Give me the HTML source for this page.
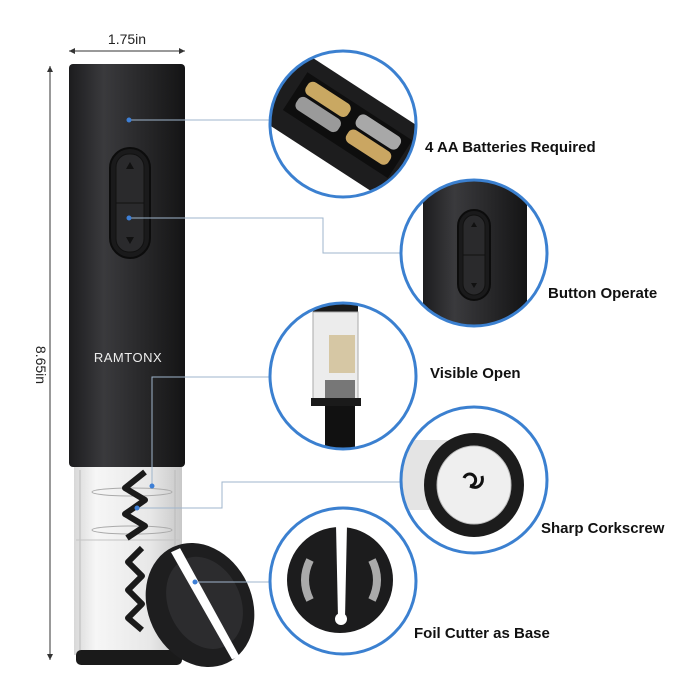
<!DOCTYPE html>
<html><head><meta charset="utf-8"><style>
html,body{margin:0;padding:0;background:#fff;}
svg{display:block;font-family:"Liberation Sans",Arial,sans-serif;}
</style></head><body>
<svg width="697" height="700" viewBox="0 0 697 700" xmlns="http://www.w3.org/2000/svg">
<defs>
<linearGradient id="body" x1="0" x2="1">
<stop offset="0" stop-color="#1c1c1e"/><stop offset="0.3" stop-color="#3a3a3d"/><stop offset="0.6" stop-color="#2a2a2c"/><stop offset="1" stop-color="#141415"/>
</linearGradient>
<linearGradient id="glass" x1="0" x2="1">
<stop offset="0" stop-color="#d8d8d8"/><stop offset="0.2" stop-color="#f6f6f6"/><stop offset="0.7" stop-color="#e8e8e8"/><stop offset="1" stop-color="#c8c8c8"/>
</linearGradient>
<clipPath id="c1"><circle cx="343" cy="124" r="73"/></clipPath>
<clipPath id="c2"><circle cx="474" cy="253" r="73"/></clipPath>
<clipPath id="c3"><circle cx="343" cy="376" r="73"/></clipPath>
<clipPath id="c4"><circle cx="474" cy="480" r="73"/></clipPath>
<clipPath id="c5"><circle cx="343" cy="581" r="73"/></clipPath>
</defs>

<text x="127" y="44" font-size="14" text-anchor="middle" fill="#222">1.75in</text>
<line x1="69" y1="51" x2="185" y2="51" stroke="#333" stroke-width="1"/>
<path d="M69 51 l6 -3 v6z M185 51 l-6 -3 v6z" fill="#333"/>
<line x1="50" y1="66" x2="50" y2="660" stroke="#333" stroke-width="1"/>
<path d="M50 66 l-3 6 h6z M50 660 l-3 -6 h6z" fill="#333"/>
<text transform="translate(36,365) rotate(90)" font-size="14" text-anchor="middle" fill="#222">8.65in</text>

<rect x="69" y="64" width="116" height="403" rx="4" fill="url(#body)"/>
<rect x="110" y="148" width="40" height="110" rx="20" fill="#1a1a1b" stroke="#0c0c0c" stroke-width="2"/>
<rect x="116" y="154" width="28" height="98" rx="13" fill="#2a2a2c" stroke="#111" stroke-width="1"/>
<line x1="116" y1="203" x2="144" y2="203" stroke="#111"/>
<path d="M130 162 l-4 7 h8z M130 244 l-4 -7 h8z" fill="#111"/>
<text x="128" y="362" font-size="13" fill="#eee" text-anchor="middle" letter-spacing="0.5">RAMTONX</text>
<rect x="74" y="467" width="108" height="188" fill="url(#glass)"/>
<line x1="80" y1="470" x2="80" y2="650" stroke="#bbb"/>
<line x1="175" y1="470" x2="175" y2="650" stroke="#bbb"/>
<line x1="76" y1="540" x2="180" y2="540" stroke="#c4c4c4"/>
<ellipse cx="132" cy="492" rx="40" ry="4" fill="none" stroke="#aaa"/>
<ellipse cx="132" cy="530" rx="40" ry="4" fill="none" stroke="#aaa"/>
<path d="M145 472 l-20 16 l20 12 l-20 14 l20 12 l-18 12 M142 548 l-14 14 l14 14 l-14 14 l14 14 l-14 14 l14 12" stroke="#1a1a1a" stroke-width="6" fill="none" stroke-linejoin="round"/>
<rect x="76" y="650" width="106" height="15" rx="5" fill="#1a1a1a"/>
<g transform="rotate(-25 200 605)">
<ellipse cx="200" cy="605" rx="52" ry="64" fill="#1e1e1f"/>
<ellipse cx="205" cy="605" rx="36" ry="48" fill="#2c2c2e"/>
<path d="M196 545 L206 545 L214 668 L206 668z" fill="#fff"/>
</g>

<g stroke="#9fb5cc" stroke-width="1" fill="none">
<path d="M129 120 H270"/>
<path d="M129 218 H323 V253 H400"/>
<path d="M152 486 V377 H270"/>
<path d="M137 508 H222 V482 H400"/>
<path d="M195 582 H270"/>
</g>
<g fill="#3d7fd6">
<circle cx="129" cy="120" r="2.5"/><circle cx="129" cy="218" r="2.5"/>
<circle cx="152" cy="486" r="2.5"/><circle cx="137" cy="508" r="2.5"/><circle cx="195" cy="582" r="2.5"/>
</g>

<g clip-path="url(#c1)">
<rect x="260" y="40" width="170" height="170" fill="#fff"/>
<g transform="rotate(33 343 124)">
<rect x="255" y="85" width="190" height="80" fill="#1d1d1e"/>
<rect x="285" y="100" width="125" height="45" fill="#0e0e0e"/>
<rect x="292" y="104" width="50" height="15" rx="6" fill="#c9a862"/>
<rect x="292" y="122" width="50" height="15" rx="6" fill="#9a9a9a"/>
<rect x="352" y="104" width="50" height="15" rx="6" fill="#a8a8a8"/>
<rect x="352" y="122" width="50" height="15" rx="6" fill="#caa662"/>
</g>
</g>
<circle cx="343" cy="124" r="73" fill="none" stroke="#3b80d0" stroke-width="3"/>

<g clip-path="url(#c2)">
<rect x="390" y="170" width="170" height="170" fill="#fff"/>
<rect x="423" y="170" width="104" height="170" fill="url(#body)"/>
<rect x="458" y="210" width="32" height="90" rx="16" fill="#1a1a1b" stroke="#0c0c0c" stroke-width="2"/>
<rect x="463" y="215" width="22" height="80" rx="11" fill="#2a2a2c" stroke="#111"/>
<line x1="463" y1="255" x2="485" y2="255" stroke="#111"/>
<path d="M474 222 l-3 5 h6z M474 288 l-3 -5 h6z" fill="#111"/>
</g>
<circle cx="474" cy="253" r="73" fill="none" stroke="#3b80d0" stroke-width="3"/>

<g clip-path="url(#c3)">
<rect x="260" y="290" width="170" height="170" fill="#fff"/>
<rect x="313" y="300" width="45" height="12" fill="#1a1a1a"/>
<rect x="313" y="312" width="45" height="90" fill="#ececec" stroke="#aaa"/>
<rect x="329" y="335" width="26" height="38" fill="#d6c7a4"/>
<rect x="325" y="380" width="30" height="18" fill="#777"/>
<rect x="311" y="398" width="50" height="8" fill="#1a1a1a"/>
<rect x="325" y="406" width="30" height="50" fill="#111"/>
</g>
<circle cx="343" cy="376" r="73" fill="none" stroke="#3b80d0" stroke-width="3"/>

<g clip-path="url(#c4)">
<rect x="390" y="400" width="170" height="170" fill="#fff"/>
<rect x="395" y="440" width="80" height="70" fill="#e4e4e4"/>
<ellipse cx="474" cy="485" rx="50" ry="52" fill="#1c1c1c"/>
<ellipse cx="474" cy="485" rx="37" ry="39" fill="#efefef" stroke="#bbb"/>
<path d="M464 478 a6 6 0 1 1 6 8 M470 486 c8 4 14 -2 12 -10" stroke="#111" stroke-width="3" fill="none"/>
</g>
<circle cx="474" cy="480" r="73" fill="none" stroke="#3b80d0" stroke-width="3"/>

<g clip-path="url(#c5)">
<rect x="260" y="500" width="170" height="170" fill="#fff"/>
<circle cx="340" cy="580" r="53" fill="#1c1c1d"/>
<path d="M310 560 q-10 20 0 40" stroke="#aaa" stroke-width="8" fill="none"/>
<path d="M372 560 q10 20 0 40" stroke="#aaa" stroke-width="8" fill="none"/>
<path d="M336 525 L347 525 L345 618 L338 618z" fill="#fff"/>
<circle cx="341" cy="619" r="6" fill="#fff"/>
</g>
<circle cx="343" cy="581" r="73" fill="none" stroke="#3b80d0" stroke-width="3"/>

<g font-size="15" font-weight="bold" fill="#111">
<text x="425" y="152">4 AA Batteries Required</text>
<text x="548" y="298">Button Operate</text>
<text x="430" y="378">Visible Open</text>
<text x="541" y="533">Sharp Corkscrew</text>
<text x="414" y="638">Foil Cutter as Base</text>
</g>
</svg>
</body></html>
